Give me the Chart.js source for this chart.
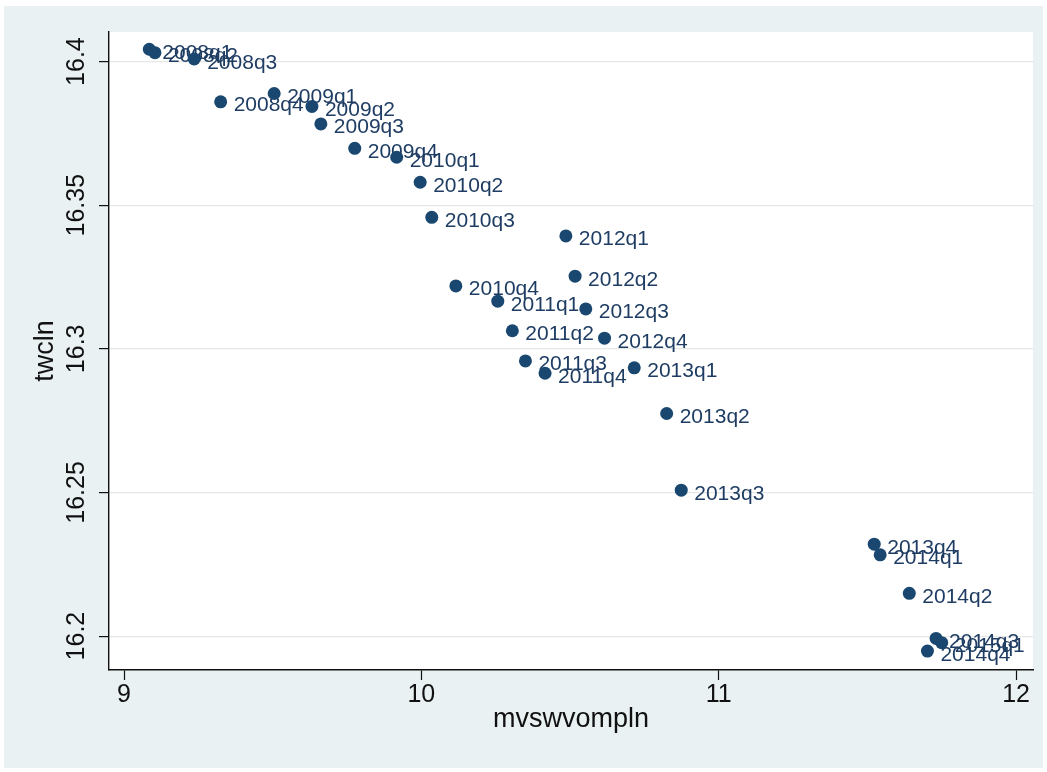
<!DOCTYPE html>
<html>
<head>
<meta charset="utf-8">
<title>twcln vs mvswvompln</title>
<script src="https://cdn.jsdelivr.net/npm/chart.js@4/dist/chart.umd.min.js"></script>
<style>
  html, body { margin: 0; padding: 0; background: #ffffff; }
  #wrap { width: 1047px; height: 772px; }
</style>
</head>
<body>
<div id="wrap"><canvas id="c" width="1047" height="772"></canvas></div>
<script>
// Quarter labels and the two log series
const quarters = [
  '2008q1', '2008q2', '2008q3', '2008q4',
  '2009q1', '2009q2', '2009q3', '2009q4',
  '2010q1', '2010q2', '2010q3', '2010q4',
  '2011q1', '2011q2', '2011q3', '2011q4',
  '2012q1', '2012q2', '2012q3', '2012q4',
  '2013q1', '2013q2', '2013q3', '2013q4',
  '2014q1', '2014q2', '2014q3', '2014q4',
  '2015q1'
];
const mvswvompln = [
  9.085, 9.104, 9.236, 9.325,
  9.505, 9.632, 9.662, 9.776,
  9.917, 9.996, 10.035, 10.116,
  10.257, 10.306, 10.350, 10.416,
  10.486, 10.517, 10.553, 10.616,
  10.716, 10.825, 10.874, 11.523,
  11.543, 11.641, 11.731, 11.702,
  11.750
];
const twcln = [
  16.4043, 16.4031, 16.4009, 16.3860,
  16.3889, 16.3844, 16.3783, 16.3698,
  16.3667, 16.3580, 16.3458, 16.3219,
  16.3166, 16.3063, 16.2958, 16.2915,
  16.3393, 16.3253, 16.3139, 16.3037,
  16.2934, 16.2775, 16.2508, 16.2320,
  16.2283, 16.2149, 16.1992, 16.1948,
  16.1977
];

// Axis ticks
const xTicks = [9, 10, 11, 12];
const xTickLabels = ['9', '10', '11', '12'];
const yTicks = [16.2, 16.25, 16.3, 16.35, 16.4];
const yTickLabels = ['16.2', '16.25', '16.3', '16.35', '16.4'];

const FONT = '"Liberation Sans", Arial, Helvetica, sans-serif';
const NAVY = '#1a476f';

// Graph region: white margin, light bluish panel, white plot area
const backgroundPlugin = {
  id: 'regions',
  beforeDraw(chart) {
    const { ctx, chartArea } = chart;
    ctx.save();
    ctx.fillStyle = '#ffffff';
    ctx.fillRect(0, 0, chart.width, chart.height);
    ctx.fillStyle = '#e9f1f3';
    ctx.fillRect(4, 6, chart.width - 8, chart.height - 10);
    ctx.fillStyle = '#ffffff';
    ctx.fillRect(chartArea.left, chartArea.top,
                 chartArea.right - chartArea.left, chartArea.bottom - chartArea.top);
    ctx.restore();
  }
};

// Quarter labels to the right of each marker (markers paint over them)
const markerLabels = {
  id: 'markerLabels',
  beforeDatasetsDraw(chart) {
    const { ctx } = chart;
    const meta = chart.getDatasetMeta(0);
    ctx.save();
    ctx.font = '21px ' + FONT;
    ctx.fillStyle = '#1f3d63';
    ctx.textAlign = 'left';
    ctx.textBaseline = 'alphabetic';
    meta.data.forEach((pt, i) => {
      ctx.fillText(quarters[i], pt.x + 13, pt.y + 9.5);
    });
    ctx.restore();
  }
};

const points = mvswvompln.map((x, i) => ({ x: x, y: twcln[i] }));

new Chart(document.getElementById('c'), {
  type: 'scatter',
  data: {
    datasets: [{
      label: 'twcln',
      data: points,
      pointRadius: 6.5,
      pointHoverRadius: 6.5,
      pointBackgroundColor: NAVY,
      pointBorderWidth: 0,
      showLine: false
    }]
  },
  options: {
    responsive: false,
    animation: false,
    events: [],
    layout: { padding: { left: 0, top: 32, right: 14, bottom: 0 } },
    plugins: {
      legend: { display: false },
      tooltip: { enabled: false }
    },
    scales: {
      x: {
        type: 'linear',
        min: 8.9495,
        max: 12.057,
        afterBuildTicks(scale) { scale.ticks = xTicks.map(v => ({ value: v })); },
        afterFit(scale) { scale.height = 102; },
        grid: {
          drawOnChartArea: false,
          color: 'transparent',
          tickColor: '#111111',
          tickLength: 10,
          tickWidth: 1.2
        },
        border: { display: true, color: '#111111', width: 1.4 },
        ticks: {
          padding: 0,
          color: '#111111',
          font: { family: FONT, size: 25 },
          maxRotation: 0,
          minRotation: 0,
          callback(value) {
            const k = xTicks.indexOf(value);
            return k >= 0 ? xTickLabels[k] : '';
          }
        },
        title: {
          display: true,
          text: 'mvswvompln',
          color: '#111111',
          font: { family: FONT, size: 27 },
          padding: { top: 0, bottom: 36 }
        }
      },
      y: {
        type: 'linear',
        min: 16.1882,
        max: 16.4103,
        afterBuildTicks(scale) { scale.ticks = yTicks.map(v => ({ value: v })); },
        afterFit(scale) { scale.width = 109; },
        grid: {
          drawOnChartArea: true,
          color: '#e6e8e8',
          lineWidth: 1.2,
          tickColor: '#111111',
          tickLength: 10,
          tickWidth: 1.2
        },
        border: { display: true, color: '#111111', width: 1.4 },
        ticks: {
          padding: -9,
          crossAlign: 'center',
          minRotation: 90,
          maxRotation: 90,
          color: '#111111',
          font: { family: FONT, size: 25 },
          callback(value) {
            const k = yTicks.findIndex(t => Math.abs(t - value) < 1e-9);
            return k >= 0 ? yTickLabels[k] : '';
          }
        },
        title: {
          display: true,
          text: 'twcln',
          color: '#111111',
          font: { family: FONT, size: 27 },
          padding: { top: 29, bottom: 0 }
        }
      }
    }
  },
  plugins: [backgroundPlugin, markerLabels]
});
</script>
</body>
</html>
